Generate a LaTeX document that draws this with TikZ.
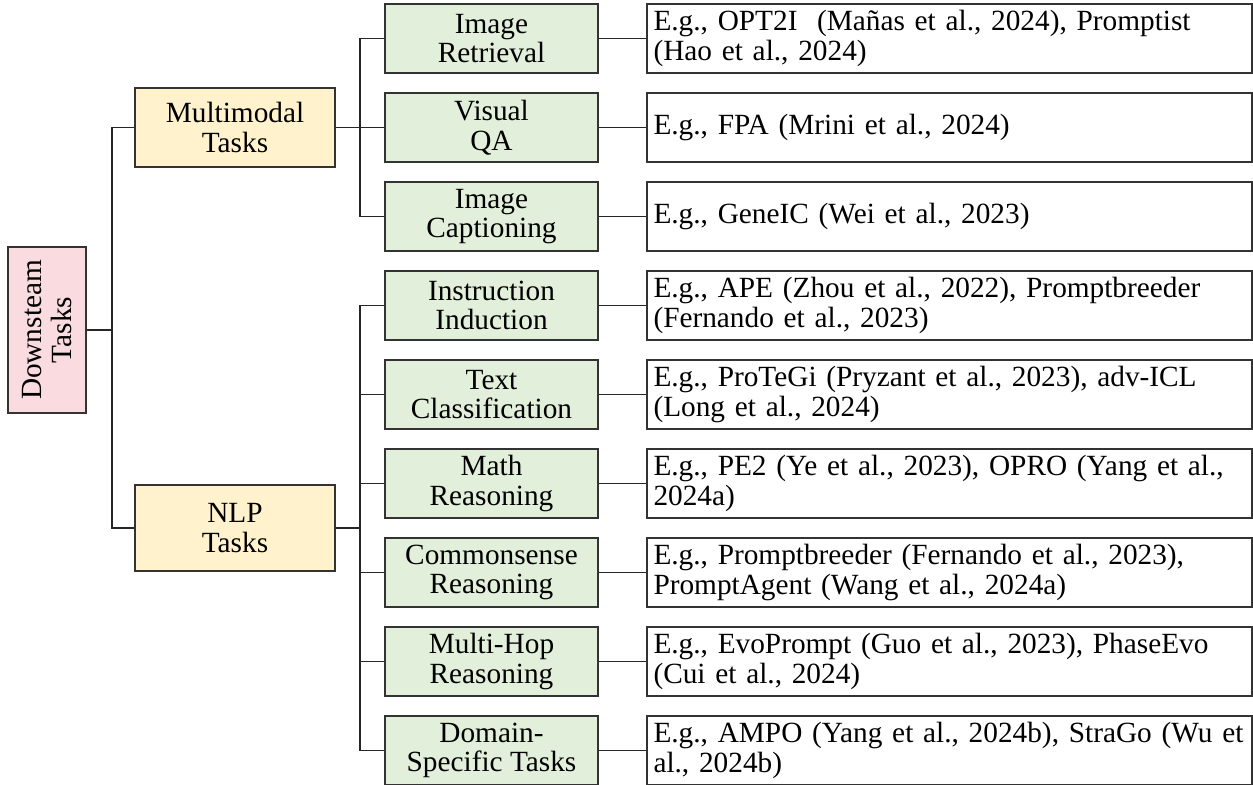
\documentclass[tikz,border=0pt]{standalone}
\usepackage{fontspec}
\setmainfont{Liberation Serif}
\usepackage{tikz}

\definecolor{rootpink}{HTML}{FADBE0}
\definecolor{taskyellow}{HTML}{FFF2CC}
\definecolor{subgreen}{HTML}{E2EFDA}

\begin{document}
\begin{tikzpicture}[
    x=0.5pt,y=-0.5pt,
    every node/.style={font=\fontsize{14.65pt}{14.9pt}\selectfont},
    rootbox/.style={draw=black!80,line width=1pt,fill=rootpink,rotate=90,
      minimum width=83pt,minimum height=39pt,inner sep=0pt,align=center},
    taskbox/.style={draw=black!80,line width=1pt,fill=taskyellow,
      minimum width=100pt,inner sep=0pt,align=center},
    subbox/.style={draw=black!80,line width=1pt,fill=subgreen,
      minimum width=106.5pt,minimum height=34.5pt,inner sep=0pt,align=center},
    refbox/.style={draw=black!80,line width=1pt,fill=white,
      text width=296pt,minimum height=34.5pt,inner xsep=3.25pt,inner ysep=0pt,align=left},
    branch/.style={line width=0.8pt,black!85}]

  \useasboundingbox (0,0) rectangle (1253,784);

  \node[rootbox] (root) at (47,330) {Downsteam\\Tasks};

  \node[taskbox,minimum height=39.5pt] (mm) at (235,127.5) {Multimodal\\Tasks};
  \node[taskbox,minimum height=43pt] (nlp) at (235,528) {NLP\\Tasks};

  \node[subbox] (ir) at (491.5,38.5) {Image\\Retrieval};
  \node[subbox] (vqa) at (491.5,127.5) {Visual\\QA};
  \node[subbox] (ic) at (491.5,216.5) {Image\\Captioning};
  \node[subbox] (ii) at (491.5,305.5) {Instruction\\Induction};
  \node[subbox] (tc) at (491.5,394.5) {Text\\Classification};
  \node[subbox] (mr) at (491.5,483.5) {Math\\Reasoning};
  \node[subbox] (cr) at (491.5,572.5) {Commonsense\\Reasoning};
  \node[subbox] (mh) at (491.5,661.5) {Multi-Hop\\Reasoning};
  \node[subbox] (ds) at (491.5,750.5) {Domain-\\Specific Tasks};

  \node[refbox] (irref) at (949.5,38.5) {E.g., OPT2I\ \ (Mañas et al., 2024), Promptist\\(Hao et al., 2024)};
  \node[refbox] (vqaref) at (949.5,127.5) {E.g., FPA (Mrini et al., 2024)};
  \node[refbox] (icref) at (949.5,216.5) {E.g., GeneIC (Wei et al., 2023)};
  \node[refbox] (iiref) at (949.5,305.5) {E.g., APE (Zhou et al., 2022), Promptbreeder\\(Fernando et al., 2023)};
  \node[refbox] (tcref) at (949.5,394.5) {E.g., ProTeGi (Pryzant et al., 2023), adv-ICL\\(Long et al., 2024)};
  \node[refbox] (mrref) at (949.5,483.5) {E.g., PE2 (Ye et al., 2023), OPRO (Yang et al.,\\2024a)};
  \node[refbox] (crref) at (949.5,572.5) {E.g., Promptbreeder (Fernando et al., 2023),\\PromptAgent (Wang et al., 2024a)};
  \node[refbox] (mhref) at (949.5,661.5) {E.g., EvoPrompt (Guo et al., 2023), PhaseEvo\\(Cui et al., 2024)};
  \node[refbox] (dsref) at (949.5,750.5) {\mbox{E.g., AMPO (Yang et al., 2024b), StraGo (Wu et}\\al., 2024b)};

  \draw[branch]
    (root.south) -- +(25,0) |- (mm.west)
    (root.south) -- +(25,0) |- (nlp.west);

  \draw[branch]
    (mm.east) -- +(24,0) |- (ir.west)
    (mm.east) -- +(24,0) |- (vqa.west)
    (mm.east) -- +(24,0) |- (ic.west);

  \draw[branch]
    (nlp.east) -- +(24,0) |- (ii.west)
    (nlp.east) -- +(24,0) |- (tc.west)
    (nlp.east) -- +(24,0) |- (mr.west)
    (nlp.east) -- +(24,0) |- (cr.west)
    (nlp.east) -- +(24,0) |- (mh.west)
    (nlp.east) -- +(24,0) |- (ds.west);

  \draw[branch] (ir.east) -- (irref.west);
  \draw[branch] (vqa.east) -- (vqaref.west);
  \draw[branch] (ic.east) -- (icref.west);
  \draw[branch] (ii.east) -- (iiref.west);
  \draw[branch] (tc.east) -- (tcref.west);
  \draw[branch] (mr.east) -- (mrref.west);
  \draw[branch] (cr.east) -- (crref.west);
  \draw[branch] (mh.east) -- (mhref.west);
  \draw[branch] (ds.east) -- (dsref.west);
\end{tikzpicture}
\end{document}
